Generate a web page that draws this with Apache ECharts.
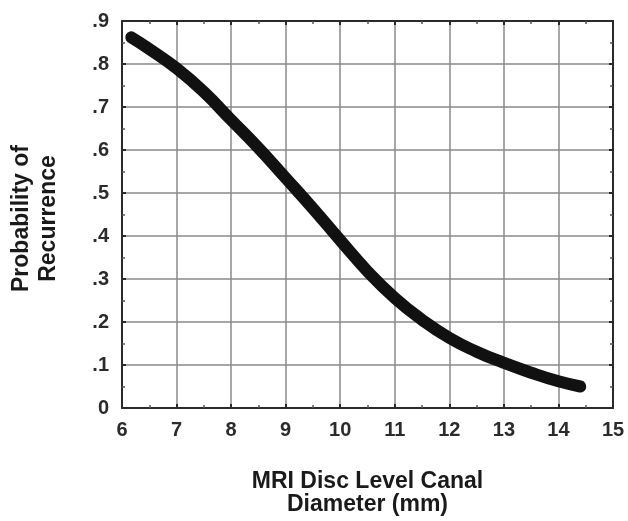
<!DOCTYPE html>
<html>
<head>
<meta charset="utf-8">
<script src="https://cdn.jsdelivr.net/npm/echarts@6/dist/echarts.min.js"></script>
<style>
html,body{margin:0;padding:0;background:#fff;}
#chart{width:628px;height:521px;}
</style>
</head>
<body>
<div id="chart"></div>
<script>
// Data
var diameterMm = [6.17, 6.5, 7.0, 7.5, 8.0, 8.5, 9.0, 9.5, 10.0, 10.5, 11.0, 11.5, 12.0, 12.5, 13.0, 13.5, 14.0, 14.4];
var recurrenceProb = [0.862, 0.835, 0.79, 0.735, 0.67, 0.605, 0.535, 0.464, 0.39, 0.318, 0.256, 0.205, 0.163, 0.131, 0.105, 0.082, 0.062, 0.05];
var xTicks = [6, 7, 8, 9, 10, 11, 12, 13, 14, 15];
var yTicks = ['0', '.1', '.2', '.3', '.4', '.5', '.6', '.7', '.8', '.9'];
var xTitle = 'MRI Disc Level Canal\nDiameter (mm)';
var yTitle = 'Probability of\nRecurrence';

var FONT = '"Liberation Sans", Arial, Helvetica, sans-serif';
var chart = echarts.init(document.getElementById('chart'), null, {renderer: 'canvas'});

var points = diameterMm.map(function (x, i) { return [x, recurrenceProb[i]]; });

function yFmt(v) {
  var idx = Math.round(v * 10);
  return yTicks[idx] !== undefined ? yTicks[idx] : '';
}

var axisLineStyle = {color: '#2a2a2a', width: 2};
var tickStyle = {color: '#2a2a2a', width: 2};

var opt = {
  backgroundColor: '#ffffff',
  animation: false,
  grid: {left: 122, right: 15, top: 21, bottom: 113, containLabel: false},
  xAxis: [{
    type: 'value', min: 6, max: 15, interval: 1, position: 'bottom',
    axisLine: {show: true, onZero: false, lineStyle: axisLineStyle},
    axisTick: {show: true, inside: true, length: 4, lineStyle: tickStyle},
    minorTick: {show: true, splitNumber: 2, length: 3, lineStyle: {color: '#555', width: 1.5}},
    splitLine: {show: true, lineStyle: {color: '#8a8a8a', width: 1.5}},
    axisLabel: {
      show: true, margin: 12, color: '#2b2b2b', fontSize: 20, fontWeight: 'bold', fontFamily: FONT,
      formatter: function (v) { return xTicks.indexOf(v) >= 0 ? String(v) : ''; }
    },
    name: xTitle, nameLocation: 'middle', nameGap: 62,
    nameTextStyle: {color: '#1a1a1a', fontSize: 23, fontWeight: 'bold', fontFamily: FONT, lineHeight: 23}
  }, {
    type: 'value', min: 6, max: 15, interval: 1, position: 'top',
    axisLine: {show: true, onZero: false, lineStyle: axisLineStyle},
    axisTick: {show: true, inside: true, length: 4, lineStyle: tickStyle},
    minorTick: {show: true, splitNumber: 2, length: 3, lineStyle: {color: '#555', width: 1.5}},
    splitLine: {show: false},
    axisLabel: {show: false}
  }],
  yAxis: [{
    type: 'value', min: 0, max: 0.9, interval: 0.1, position: 'left',
    axisLine: {show: true, onZero: false, lineStyle: axisLineStyle},
    axisTick: {show: true, inside: true, length: 4, lineStyle: tickStyle},
    minorTick: {show: true, splitNumber: 2, length: 3, lineStyle: {color: '#555', width: 1.5}},
    splitLine: {show: true, lineStyle: {color: '#8a8a8a', width: 1.5}},
    axisLabel: {
      show: true, margin: 13, color: '#2b2b2b', fontSize: 20, fontWeight: 'bold', fontFamily: FONT,
      formatter: yFmt
    },
    name: yTitle, nameLocation: 'middle', nameGap: 60, nameRotate: 90,
    nameTextStyle: {color: '#1a1a1a', fontSize: 23, fontWeight: 'bold', fontFamily: FONT, lineHeight: 27,
      padding: [0, 8, 0, 0]}
  }, {
    type: 'value', min: 0, max: 0.9, interval: 0.1, position: 'right',
    axisLine: {show: true, onZero: false, lineStyle: axisLineStyle},
    axisTick: {show: true, inside: true, length: 4, lineStyle: tickStyle},
    minorTick: {show: true, splitNumber: 2, length: 3, lineStyle: {color: '#555', width: 1.5}},
    splitLine: {show: false},
    axisLabel: {show: false}
  }],
  series: [{
    type: 'line',
    data: points,
    xAxisIndex: 0, yAxisIndex: 0,
    smooth: 0.5,
    showSymbol: false,
    lineStyle: {color: '#111111', width: 12, cap: 'round', join: 'round'},
    z: 5
  }]
};
chart.setOption(opt);
</script>
</body>
</html>
